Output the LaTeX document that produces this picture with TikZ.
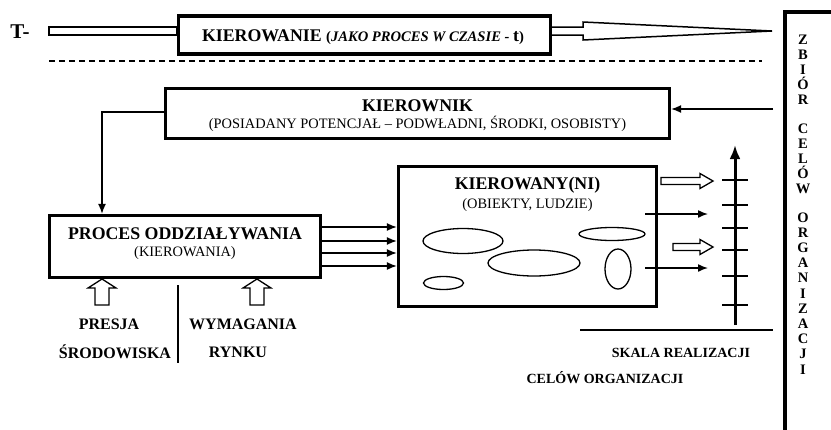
\documentclass[tikz,border=0pt]{standalone}
\usepackage{fontspec}
\setmainfont{Liberation Serif}
\usetikzlibrary{arrows.meta, positioning}
\tikzset{
  box/.style={draw, rectangle, line width=3.2pt, inner sep=0pt},
  conn/.style={line width=1.5pt, -{Latex[length=10pt,width=8pt]}},
  hollow/.style={draw, line width=1.3pt, fill=white, line join=miter},
  tickline/.style={line width=2.2pt},
  blob/.style={line width=1.3pt},
}
\newcommand{\headfont}{\fontsize{17.8}{20}\selectfont\bfseries}
\newcommand{\subfont}{\fontsize{14.4}{16}\selectfont}
\newcommand{\labfont}{\fontsize{16}{18}\selectfont\bfseries}
\newcommand{\scalefont}{\fontsize{14}{16}\selectfont\bfseries}
\begin{document}
\begin{tikzpicture}[x=1pt, y=-1pt]
\useasboundingbox (0,0) rectangle (831,429);
% Top row: time arrow
\node[font=\fontsize{21}{22}\selectfont\bfseries] (tlab) at (20,32) {T-};
\draw[line width=1.5pt] (49,27) rectangle (177,35); % left shaft
\node[box, minimum width=372pt, minimum height=38pt] (kierowanie) at (364.5,35) {};
\node (kierowanieT) at (363,37) {\headfont KIEROWANIE {\fontsize{14.6}{16}\selectfont(\textit{JAKO PROCES W CZASIE -} }t{\fontsize{14.6}{16}\selectfont)}};
\draw[line width=1.5pt, line join=miter] (kierowanie.east |- 0,27) -- (583,27) -- (583,22) -- (772,31) -- (583,40) -- (583,35) -- (kierowanie.east |- 0,35); % right shaft and head
\draw[line width=1.2pt, dash pattern=on 6pt off 4pt] (49,61) -- (762,61);
%
% Goals of the organisation
\draw[line width=3.2pt] (785,440) -- (785,12) -- (840,12);
\node[font=\fontsize{14.5}{15.2}\selectfont\bfseries, align=center, anchor=north] (zbior) at (803,31)
  {Z\\B\\I\\Ó\\R\\[13pt]C\\E\\L\\Ó\\W\\[13pt]O\\R\\G\\A\\N\\I\\Z\\A\\C\\J\\I};
%
% Manager
\node[box, minimum width=504pt, minimum height=50pt] (kierownik) at (417.5,113.5) {};
\node[font=\headfont] (kierownikT) at (417.5,106) {KIEROWNIK};
\node[font=\subfont] (kierownikS) at (417.5,124) {(POSIADANY POTENCJAŁ – PODWŁADNI, ŚRODKI, OSOBISTY)};
\coordinate (goal) at (773,109);
\draw[conn] (goal) -- (goal -| kierownik.east);
%
% Process of influence
\node[box, minimum width=271pt, minimum height=62pt] (proces) at (185,246.5) {};
\node[font=\headfont] (procesT) at (185,234) {PROCES ODDZIAŁYWANIA};
\node[font=\subfont] (procesS) at (185,253) {(KIEROWANIA)};
\draw[conn] (kierownik.west |- 0,112) -| (proces.north -| 102,0);
%
% Managed objects
\node[box, minimum width=258pt, minimum height=140pt] (kierowany) at (527.5,236.5) {};
\node[font=\headfont] (kierowanyT) at (527.5,185) {KIEROWANY(NI)};
\node[font=\subfont] (kierowanyS) at (527.5,205) {(OBIEKTY, LUDZIE)};
\draw[blob] (463,241) ellipse [x radius=40, y radius=12.5];
\draw[blob] (443.5,283) ellipse [x radius=20, y radius=6.5];
\draw[blob] (534,263) ellipse [x radius=46, y radius=13];
\draw[blob] (612,234) ellipse [x radius=33, y radius=6.5];
\draw[blob] (618,269) ellipse [x radius=13, y radius=20];
\draw[conn] (proces.east |- 0,227) -- (kierowany.west |- 0,227);
\draw[conn] (proces.east |- 0,241) -- (kierowany.west |- 0,241);
\draw[conn] (proces.east |- 0,253) -- (kierowany.west |- 0,253);
\draw[conn] (proces.east |- 0,266) -- (kierowany.west |- 0,266);
%
% Pressure from below
\draw[hollow] (95,305) -- (95,288) -- (88,288) -- (102,279) -- (116,288) -- (109,288) -- (109,305) -- cycle;
\draw[hollow] (250,305) -- (250,288) -- (243,288) -- (257,279) -- (271,288) -- (264,288) -- (264,305) -- cycle;
\draw[line width=1.5pt] (178,285) -- (178,363);
\node[font=\labfont] (presja) at (109,324) {PRESJA};
\node[font=\labfont] (srodowiska) at (115,352) {ŚRODOWISKA};
\node[font=\labfont] (wymagania) at (243,324) {WYMAGANIA};
\node[font=\labfont] (rynku) at (238,352) {RYNKU};
%
% Scale of goal realisation
\draw[line width=3pt, -{Latex[length=14pt,width=11pt]}] (735,325) -- (735,145);
\draw[tickline] (722,180) -- (748,180) (722,205) -- (748,205) (722,228) -- (748,228)
  (722,250) -- (748,250) (722,276) -- (748,276) (722,305) -- (748,305);
\draw[hollow] (661,177.5) -- (700,177.5) -- (700,173.5) -- (713,181) -- (700,188.5) -- (700,184.5) -- (661,184.5) -- cycle;
\draw[hollow] (673,243.5) -- (700,243.5) -- (700,239.5) -- (713,247) -- (700,254.5) -- (700,250.5) -- (673,250.5) -- cycle;
\coordinate (outA) at (645,214);
\coordinate (outB) at (645,268);
\draw[conn] (outA) -- ++(63,0);
\draw[conn] (outB) -- ++(63,0);
\draw[line width=1.5pt] (580,330) -- (773,330);
\node[font=\scalefont] (skala) at (681,353) {SKALA REALIZACJI};
\node[font=\scalefont] (celow) at (605,378) {CELÓW ORGANIZACJI};
\end{tikzpicture}
\end{document}
